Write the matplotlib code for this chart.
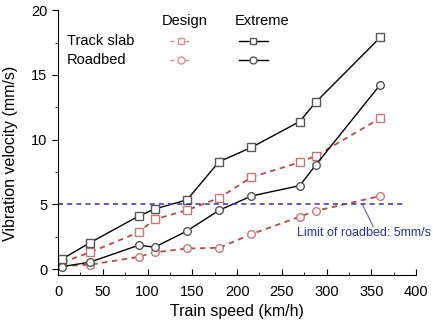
import matplotlib
matplotlib.use("Agg")
import matplotlib.pyplot as plt
from matplotlib.lines import Line2D
from matplotlib.ticker import MultipleLocator

plt.rcParams["font.family"] = ["Liberation Sans", "DejaVu Sans"]

# train speeds (km/h)
speed = [5, 36, 90, 108, 144, 180, 216, 270, 288, 360]
# vibration velocities (mm/s)
slab_extreme = [0.8, 2.05, 4.1, 4.65, 5.35, 8.3, 9.4, 11.4, 12.9, 17.9]
slab_design = [0.55, 1.3, 2.85, 3.85, 4.55, 5.5, 7.1, 8.25, 8.75, 11.65]
road_extreme = [0.2, 0.55, 1.85, 1.7, 2.95, 4.55, 5.65, 6.45, 8.05, 14.25]
road_design = [0.25, 0.35, 0.95, 1.3, 1.6, 1.65, 2.7, 4.05, 4.5, 5.65]
limit = 5

red = "#b54a4a"
fig = plt.figure(figsize=(4.33, 3.27), dpi=100)
ax = fig.add_axes([0.134, 0.159, 0.827, 0.81])

mk = dict(markersize=5.5, markerfacecolor="white", markeredgewidth=1.0)
ax.plot(speed, slab_design, "--s", color=red, dashes=(3, 2.5), lw=1.3,
        markeredgecolor="#c87878", **mk)
ax.plot(speed, road_design, "--o", color=red, dashes=(3, 2.5), lw=1.3,
        markeredgecolor="#c87878", **mk)
ax.plot(speed, slab_extreme, "-s", color="black", lw=1.0,
        markeredgecolor="#555555", **mk)
ax.plot(speed, road_extreme, "-o", color="black", lw=1.0,
        markeredgecolor="#555555", **mk)

# limit line with its label
ax.plot([0, 388], [limit, limit], color="#4040b0", ls=(0, (3, 2.5)), lw=1.2)
ax.plot([340, 352], [limit, 3.3], color="#6060a0", lw=0.8)
ax.text(342, 2.8, "Limit of roadbed: 5mm/s", color="#30309a", fontsize=9,
        ha="center", va="center", clip_on=False)

# legend table
ax.text(0.355, 0.958, "Design", transform=ax.transAxes, fontsize=10.5,
        ha="center", va="center")
ax.text(0.57, 0.958, "Extreme", transform=ax.transAxes, fontsize=10.5,
        ha="center", va="center")
rows = [("Track slab", "s", 0.883), ("Roadbed", "o", 0.812)]
for label, m, yy in rows:
    ax.text(0.025, yy, label, transform=ax.transAxes, fontsize=10.5,
            ha="left", va="center")
    ax.add_line(Line2D([0.313, 0.344, 0.375], [yy] * 3,
                       transform=ax.transAxes,
                       color="#d08080", ls=(0, (2.5, 3)), lw=1.0, marker=m,
                       markevery=[1], markersize=5, markerfacecolor="white",
                       markeredgecolor="#d09090"))
    ax.add_line(Line2D([0.505, 0.545, 0.585], [yy] * 3,
                       transform=ax.transAxes,
                       color="black", lw=1.0, marker=m, markevery=[1],
                       markersize=5, markerfacecolor="white",
                       markeredgecolor="#555555"))

ax.set_xlim(0, 400)
ax.set_ylim(-0.45, 20)
ax.xaxis.set_major_locator(MultipleLocator(50))
ax.xaxis.set_minor_locator(MultipleLocator(25))
ax.yaxis.set_major_locator(MultipleLocator(5))
ax.yaxis.set_minor_locator(MultipleLocator(2.5))
ax.spines["top"].set_visible(False)
ax.spines["right"].set_visible(False)
ax.tick_params(axis="x", which="both", direction="in", labelsize=10.5, pad=7)
ax.tick_params(axis="y", which="both", direction="out", labelsize=10.5)
ax.tick_params(which="major", length=4)
ax.tick_params(which="minor", length=2.5)
ax.set_xlabel("Train speed (km/h)", fontsize=11.5, labelpad=4)
ax.set_ylabel("Vibration velocity (mm/s)", fontsize=11.5)
ax.yaxis.set_label_coords(-0.112, 0.46)

fig.savefig("out.png", dpi=100)
